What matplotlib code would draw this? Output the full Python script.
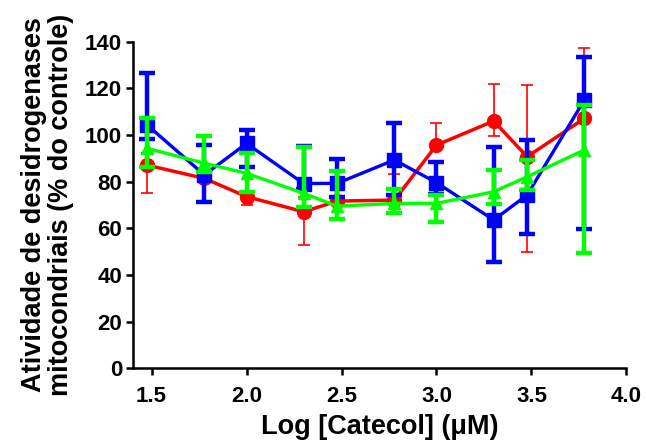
import numpy as np
import matplotlib
matplotlib.use("Agg")
import matplotlib.pyplot as plt

# concentrações de catecol (uM) e seus logs
conc = [30, 60, 100, 200, 300, 600, 1000, 2000, 3000, 6000]
log_conc = np.log10(conc)

# série vermelha (círculos)
red_mean = [87.1, 81.4, 73.6, 67.1, 71.7, 72.1, 95.7, 106.0, 90.7, 107.1]
red_top = [92.3, 83.0, 75.0, 73.6, 73.0, 83.3, 105.3, 121.9, 121.4, 137.1]
red_bot = [75.3, 80.0, 70.0, 52.9, 70.0, 71.0, 94.0, 99.6, 50.0, 105.0]

# série azul (quadrados)
blue_mean = [104.3, 82.9, 96.4, 79.2, 79.3, 89.3, 79.6, 63.6, 74.3, 115.0]
blue_top = [126.7, 95.6, 102.1, 95.5, 89.6, 105.0, 88.3, 94.7, 97.9, 133.3]
blue_bot = [98.1, 71.1, 86.4, 77.0, 73.6, 74.3, 74.7, 45.7, 57.4, 59.6]

# série verde (triângulos)
green_mean = [94.3, 87.9, 83.6, 75.0, 69.5, 70.7, 70.7, 75.7, 82.1, 93.6]
green_top = [107.1, 99.6, 92.1, 94.7, 84.6, 76.7, 74.5, 85.0, 89.3, 112.9]
green_bot = [86.4, 84.3, 75.7, 69.3, 64.2, 66.4, 62.9, 70.6, 76.4, 49.3]

xticks = [1.5, 2.0, 2.5, 3.0, 3.5, 4.0]
yticks = [0, 20, 40, 60, 80, 100, 120, 140]

plt.rcParams['font.family'] = ['Liberation Sans', 'DejaVu Sans']
plt.rcParams['font.weight'] = 'bold'

fig = plt.figure(figsize=(6.46, 4.47), dpi=100)
ax = fig.add_axes([0.2063, 0.176, 0.7635, 0.7307])


def draw(mean, top, bot, color, marker, ms, lw, elw, cap, capt, z):
    mean = np.array(mean)
    yerr = [mean - np.array(bot), np.array(top) - mean]
    ax.errorbar(log_conc, mean, yerr=yerr, color=color, marker=marker,
                markersize=ms, linewidth=lw, elinewidth=elw, capsize=cap,
                capthick=capt, zorder=z, clip_on=False)


draw(red_mean, red_top, red_bot, '#ff0000', 'o', 10, 2.5, 1.2, 4.5, 1.2, 2)
draw(blue_mean, blue_top, blue_bot, '#0000ff', 's', 10, 2.4, 3.2, 5.5, 3.2, 3)
draw(green_mean, green_top, green_bot, '#00ff00', '^', 8.5, 2.4, 3.2, 5.5, 3.2, 4)

ax.set_xlim(1.404, 4.0)
ax.set_ylim(0, 140)
ax.set_xticks(xticks)
ax.set_xticklabels([f'{t:.1f}' for t in xticks])
ax.set_yticks(yticks)

for side in ['top', 'right']:
    ax.spines[side].set_visible(False)
for side in ['left', 'bottom']:
    ax.spines[side].set_linewidth(1.8)

ax.tick_params(axis='both', length=5, width=1.8, labelsize=16, direction='out')
ax.tick_params(axis='x', pad=8)
ax.tick_params(axis='y', pad=3)

ax.set_xlabel('Log [Catecol] (μM)', fontsize=19.5, fontweight='bold', labelpad=5)
ax.set_ylabel('Atividade de desidrogenases\nmitocondriais (% do controle)',
              fontsize=19.5, fontweight='bold', labelpad=8, linespacing=1.05)

plt.savefig('out.png', dpi=100)
